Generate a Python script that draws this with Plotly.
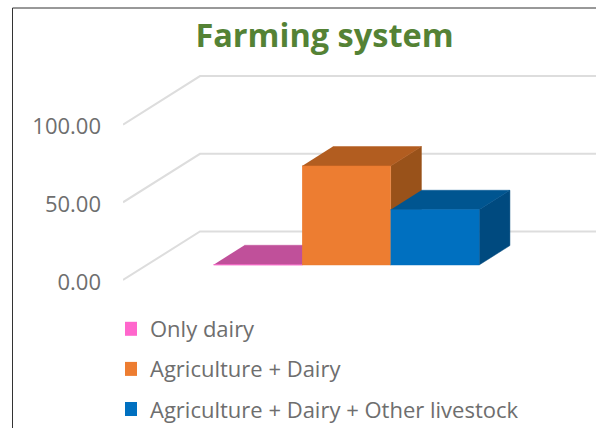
import plotly.graph_objects as go

categories = ["Only dairy", "Agriculture + Dairy", "Agriculture + Dairy + Other livestock"]
values = [0.2, 63.7, 35.6]
front_colors = ["#FF66CC", "#ED7D31", "#0070C0"]
top_colors = ["#C0509A", "#B25D20", "#005590"]
side_colors = ["#A8468A", "#99521A", "#004A7F"]
tick_vals = [0, 50, 100]
tick_text = ["0.00", "50.00", "100.00"]

W, H = 596, 428
L, T = 123, 60
PX_PER_CAT = 88.5
PX_PER_VAL = 1.554
X0_PX, Y0_PX = 234.0, 280.0
DX = 77 / PX_PER_CAT      # oblique shift of full depth, category units
DY = 48.5 / PX_PER_VAL    # oblique shift of full depth, value units
BAR_D0, BAR_D1 = 0.31, 0.71
GRID = "#DDDDDD"

x_range = [(L - X0_PX) / PX_PER_CAT, (W - X0_PX) / PX_PER_CAT]
y_range = [(Y0_PX - H) / PX_PER_VAL, (Y0_PX - T) / PX_PER_VAL]


def proj(x, v, d):
    return x + d * DX, v + d * DY


def face(points, color, name):
    xs, ys = zip(*[proj(*p) for p in points])
    return go.Scatter(x=list(xs), y=list(ys), mode="lines", fill="toself", fillcolor=color,
                      line=dict(color=color, width=0.5), showlegend=False, hoverinfo="skip", name=name)


fig = go.Figure()

for v in tick_vals:
    a = proj(x_range[0], v, 0)
    b = proj(x_range[0], v, 1)
    fig.add_trace(go.Scatter(x=[a[0], b[0], x_range[1]], y=[a[1], b[1], b[1]], mode="lines",
                             line=dict(color=GRID, width=2), showlegend=False, hoverinfo="skip"))

for i, (name, val) in enumerate(zip(categories, values)):
    l, r = i - 0.5, i + 0.5
    fig.add_trace(face([(r, 0, BAR_D0), (r, 0, BAR_D1), (r, val, BAR_D1), (r, val, BAR_D0)], side_colors[i], name))
    fig.add_trace(face([(l, val, BAR_D0), (r, val, BAR_D0), (r, val, BAR_D1), (l, val, BAR_D1)], top_colors[i], name))
    fig.add_trace(face([(l, 0, BAR_D0), (r, 0, BAR_D0), (r, val, BAR_D0), (l, val, BAR_D0)], front_colors[i], name))

for i, name in enumerate(categories):
    fig.add_trace(go.Scatter(x=[None], y=[None], mode="markers", name=name, legendgroup=name,
                             marker=dict(symbol="square", size=14, color=front_colors[i])))

fig.update_layout(
    width=W, height=H, margin=dict(l=L, r=0, t=T, b=0, autoexpand=False),
    paper_bgcolor="white", plot_bgcolor="white",
    title=dict(text="<b>Farming system</b>", font=dict(family="Open Sans", size=32.5, color="#548235"),
               x=324.5 / W, xanchor="center", y=1 - 36 / H, yanchor="middle", yref="container"),
    xaxis=dict(range=x_range, visible=False, fixedrange=True),
    yaxis=dict(range=y_range, tickvals=tick_vals, ticktext=tick_text, showgrid=False, zeroline=False,
               showline=False, ticks="", ticklabelstandoff=21, ticklabelshift=2, automargin=False,
               tickfont=dict(family="Open Sans", size=22, color="#6E6E6E")),
    legend=dict(x=(125 - L) / (W - L), xanchor="left", y=1 - (308 - T) / (H - T), yanchor="top",
                font=dict(family="Open Sans", size=22, color="#6E6E6E"), tracegroupgap=8.5,
                indentation=-15, bgcolor="rgba(0,0,0,0)"),
    shapes=[
        dict(type="line", xref="paper", yref="paper", x0=(12.5 - L) / (W - L), x1=(12.5 - L) / (W - L),
             y0=0, y1=1 + (T - 8) / (H - T), line=dict(color="#333333", width=1)),
        dict(type="line", xref="paper", yref="paper", x0=(12.5 - L) / (W - L), x1=1,
             y0=1 + (T - 8) / (H - T), y1=1 + (T - 8) / (H - T), line=dict(color="#333333", width=1)),
    ],
)
fig.write_html("out.html", config=dict(displayModeBar=False),
               post_script="document.body.style.margin='0';document.body.style.overflow='hidden';")
